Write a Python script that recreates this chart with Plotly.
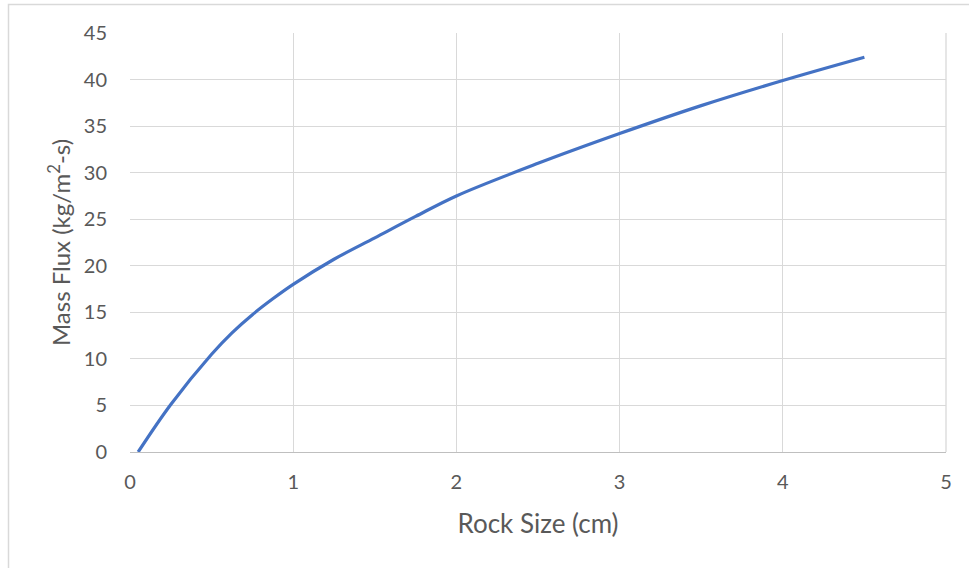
import plotly.graph_objects as go

# Mass flux vs rock size
rock_size_cm = [0.05, 0.25, 0.5, 0.625, 0.75, 0.875, 1.0, 1.25, 1.5, 1.75, 2.0, 2.5, 3.0, 3.5, 4.0, 4.5]
mass_flux = [0.0, 5.1, 10.5, 12.8, 14.75, 16.45, 18.0, 20.7, 23.0, 25.3, 27.5, 31.0, 34.2, 37.2, 39.9, 42.4]

x_ticks = [0, 1, 2, 3, 4, 5]
y_ticks = [0, 5, 10, 15, 20, 25, 30, 35, 40, 45]

FONT = "Lato, Open Sans, sans-serif"
TEXT = "#595959"
GRID = "#d9d9d9"

fig = go.Figure()
fig.add_trace(go.Scatter(
    x=rock_size_cm, y=mass_flux, mode="lines",
    line=dict(color="#4472c4", width=3.2, shape="spline", smoothing=1.0),
    showlegend=False,
))

fig.update_layout(
    width=969, height=568,
    margin=dict(l=130, r=23, t=33, b=116),
    paper_bgcolor="white", plot_bgcolor="white",
    font=dict(family=FONT, color=TEXT, size=20),
    xaxis=dict(
        range=[0, 5], tickvals=x_ticks, showgrid=True, gridcolor=GRID, gridwidth=1.3,
        zeroline=False, showline=True, linecolor="#bfbfbf", linewidth=1.3,
        ticks="", ticklabelstandoff=12, tickfont=dict(size=20, color=TEXT),
        title=dict(text="Rock Size (cm)", font=dict(size=26, color=TEXT), standoff=22),
        automargin=False,
    ),
    yaxis=dict(
        range=[0, 45], tickvals=y_ticks, showgrid=True, gridcolor=GRID, gridwidth=1.3,
        zeroline=False, showline=False,
        ticks="", ticklabelstandoff=22, tickfont=dict(size=20, color=TEXT),
        title=dict(text="Mass Flux (kg/m<sup>2</sup>-s)", font=dict(size=24, color=TEXT), standoff=6),
        automargin=False,
    ),
    shapes=[
        # outer chart border
        dict(type="rect", xref="paper", yref="paper",
             x0=(8.5 - 130) / 816, x1=(975 - 130) / 816,
             y0=(452 - 575) / 419, y1=(452 - 4.5) / 419,
             line=dict(color="#d9d9d9", width=1.5), fillcolor="rgba(0,0,0,0)", layer="below"),
        # right edge of the plot area
        dict(type="line", xref="paper", yref="paper", x0=1, x1=1, y0=0, y1=1,
             line=dict(color=GRID, width=1.3), layer="below"),
    ],
)

fig.write_html("out.html")
